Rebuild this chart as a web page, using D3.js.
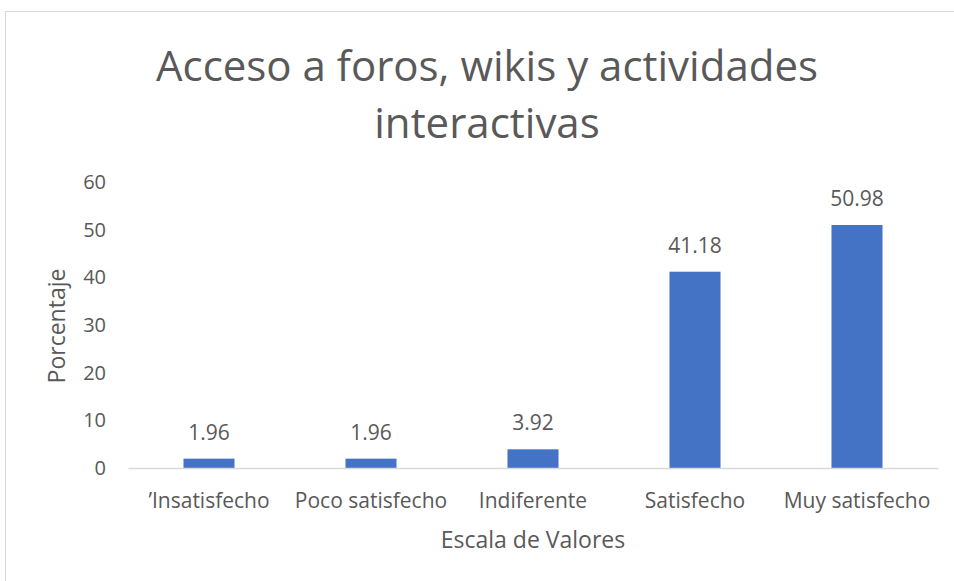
<!DOCTYPE html>
<html><head><meta charset="utf-8">
<script src="https://cdn.jsdelivr.net/npm/d3@7"></script>
<style>body{margin:0;background:#fff}svg{display:block}text{font-family:"Open Sans",sans-serif;fill:#595959}</style>
</head><body>
<script>
const categories = ["’Insatisfecho","Poco satisfecho","Indiferente","Satisfecho","Muy satisfecho"];
const values = [1.96,1.96,3.92,41.18,50.98];
const yTicks = [0,10,20,30,40,50,60];
const titleLines = ["Acceso a foros, wikis y actividades","interactivas"];

const W=954,H=581;
const svg=d3.select("body").append("svg").attr("width",W).attr("height",H);
svg.append("rect").attr("x",5.5).attr("y",11.5).attr("width",W+10).attr("height",H+10)
  .attr("fill","#fff").attr("stroke","#d9d9d9");
const m={l:128,r:938,t:182,b:468};
const x=d3.scaleBand().domain(categories).range([m.l,m.r]).paddingInner(0.685).paddingOuter(0.3425);
const y=d3.scaleLinear().domain([0,60]).range([m.b,m.t]);

svg.selectAll("text.title").data(titleLines).enter().append("text")
  .attr("x",487).attr("y",(d,i)=>81+i*57).attr("text-anchor","middle")
  .style("font-size","42px").text(d=>d);

const ya=svg.append("g").attr("transform",`translate(${m.l},0)`)
  .call(d3.axisLeft(y).tickValues(yTicks).tickSize(0).tickPadding(22));
ya.select(".domain").remove();
ya.selectAll("text").style("font-size","20px").attr("fill","#595959").style("font-family","'Open Sans',sans-serif");

svg.selectAll("rect.bar").data(values).enter().append("rect")
  .attr("x",(d,i)=>x(categories[i])).attr("width",x.bandwidth())
  .attr("y",d=>y(d)).attr("height",d=>y(0)-y(d)).attr("fill","#4472C4");

const xa=svg.append("g").attr("transform",`translate(0,${m.b})`)
  .call(d3.axisBottom(x).tickSize(0).tickPadding(25));
xa.select(".domain").attr("stroke","#d9d9d9").attr("stroke-width",1.5);
xa.selectAll("text").style("font-size","21px").attr("fill","#595959").style("font-family","'Open Sans',sans-serif");

svg.selectAll("text.lbl").data(values).enter().append("text")
  .attr("x",(d,i)=>x(categories[i])+x.bandwidth()/2).attr("y",d=>y(d)-19)
  .attr("text-anchor","middle").style("font-size","21px").text(d=>d.toFixed(2));

svg.append("text").attr("x",533).attr("y",548).attr("text-anchor","middle")
  .style("font-size","23px").text("Escala de Valores");
svg.append("text").attr("transform",`translate(65,326) rotate(-90)`)
  .attr("text-anchor","middle").style("font-size","23px").text("Porcentaje");
</script>
</body></html>
